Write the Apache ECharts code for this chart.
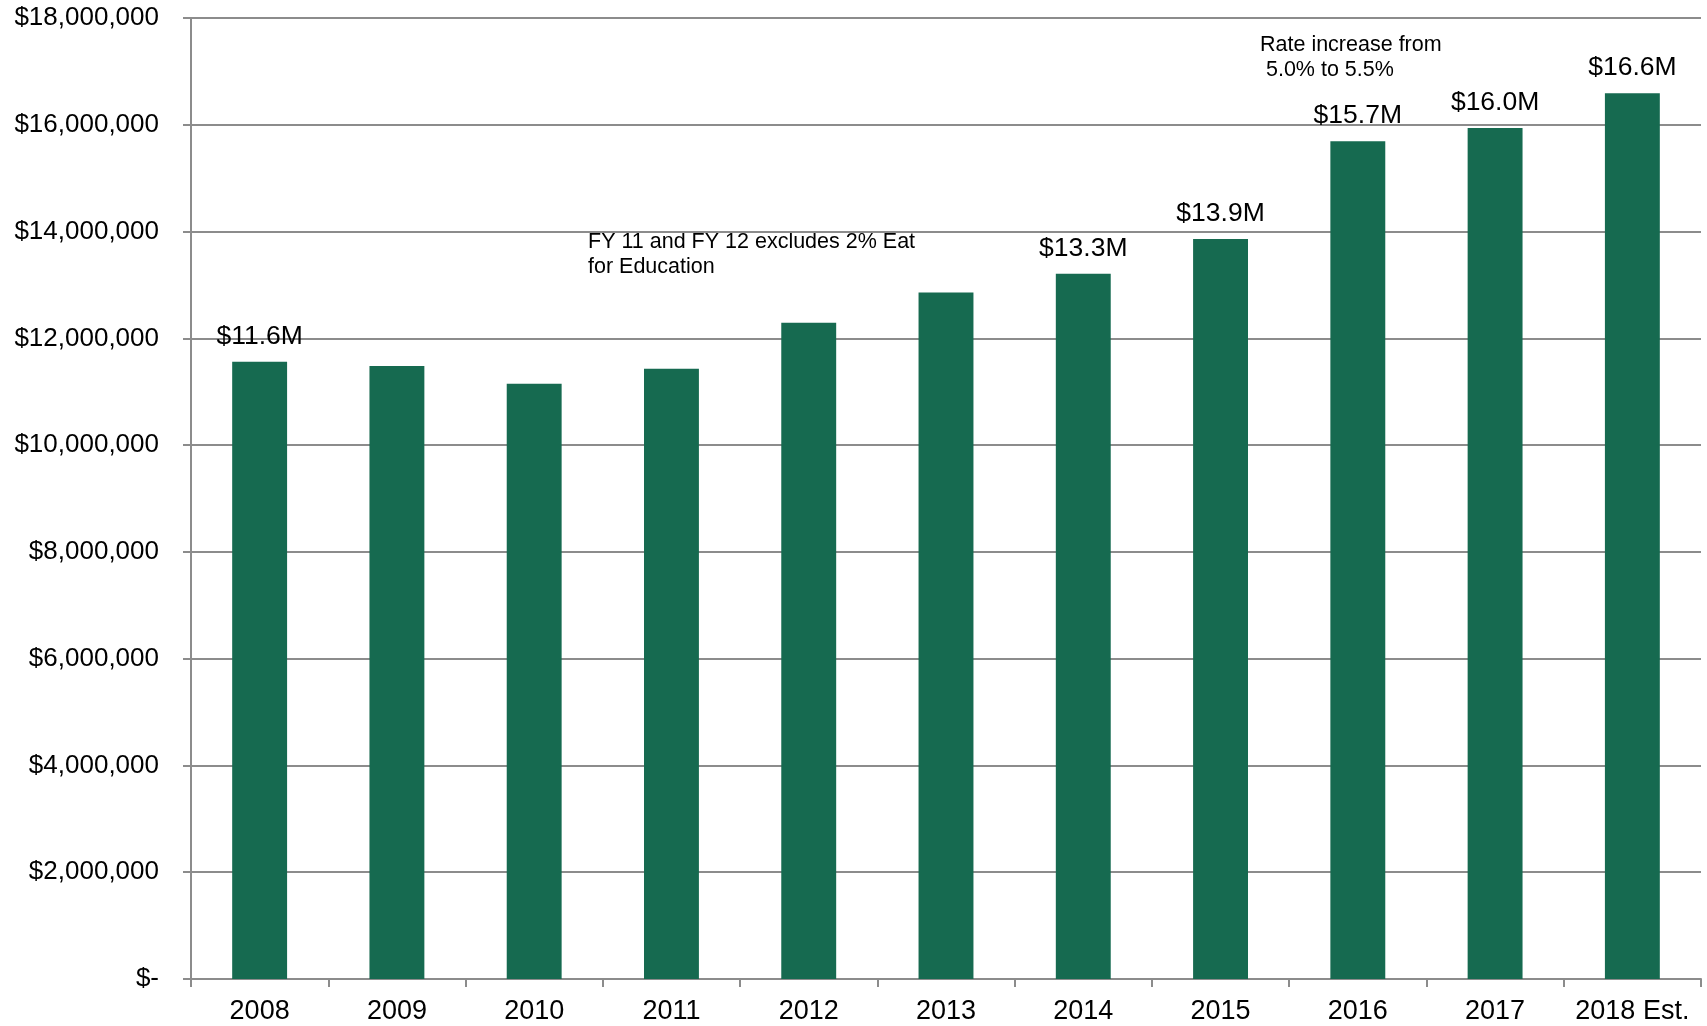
<!DOCTYPE html>
<html>
<head>
<meta charset="utf-8">
<script src="https://cdn.jsdelivr.net/npm/echarts@6/dist/echarts.min.js"></script>
<style>
  html, body { margin: 0; padding: 0; background: #fff; }
  #chart { width: 1707px; height: 1026px; }
</style>
</head>
<body>
<div id="chart"></div>
<script>
// 年度
var years = ['2008', '2009', '2010', '2011', '2012', '2013', '2014', '2015', '2016', '2017', '2018 Est.'];
// 收入 (美元)
var revenue = [11560000, 11480000, 11150000, 11430000, 12290000, 12860000, 13210000, 13860000, 15690000, 15940000, 16590000];
// 柱上標籤，空字串代表不顯示
var barLabels = ['$11.6M', '', '', '', '', '', '$13.3M', '$13.9M', '$15.7M', '$16.0M', '$16.6M'];
var yTicks = [0, 2000000, 4000000, 6000000, 8000000, 10000000, 12000000, 14000000, 16000000, 18000000];

var gridColor = '#8c8c8c';
var font = '"Liberation Sans", Arial, sans-serif';

var myChart = echarts.init(document.getElementById('chart'));

var seriesData = revenue.map(function (v, i) {
  return { value: v, label: { show: barLabels[i] !== '', formatter: barLabels[i] } };
});

myChart.setOption({
  backgroundColor: '#ffffff',
  animation: false,
  grid: {
    left: 191,
    right: 6,
    top: 18,
    bottom: 47
  },
  xAxis: {
    type: 'category',
    data: years,
    axisLine: { show: true, lineStyle: { color: gridColor, width: 2 } },
    axisTick: { show: true, length: 8, lineStyle: { color: gridColor, width: 2 } },
    axisLabel: {
      margin: 19,
      color: '#000',
      fontSize: 27,
      fontFamily: font,
      interval: 0
    }
  },
  yAxis: {
    type: 'value',
    min: yTicks[0],
    max: yTicks[yTicks.length - 1],
    interval: 2000000,
    axisLine: { show: true, lineStyle: { color: gridColor, width: 2 } },
    axisTick: { show: true, length: 8, lineStyle: { color: gridColor, width: 2 } },
    splitLine: { show: true, lineStyle: { color: gridColor, width: 2 } },
    axisLabel: {
      margin: 32,
      color: '#000',
      fontSize: 26,
      fontFamily: font,
      formatter: function (v) {
        if (v === 0) return '$-';
        return '$' + v.toLocaleString('en-US');
      }
    }
  },
  graphic: [
    {
      type: 'text',
      left: 588,
      top: 230,
      style: {
        text: 'FY 11 and FY 12 excludes 2% Eat\nfor Education',
        fontSize: 21.5,
        lineHeight: 25,
        fontFamily: font,
        fill: '#000'
      }
    },
    {
      type: 'text',
      left: 1260,
      top: 33,
      style: {
        text: 'Rate increase from\n 5.0% to 5.5%',
        fontSize: 21.5,
        lineHeight: 25,
        fontFamily: font,
        fill: '#000'
      }
    }
  ],
  series: [
    {
      type: 'bar',
      data: seriesData,
      barWidth: '40%',
      itemStyle: { color: '#166a50' },
      label: {
        position: 'top',
        distance: 12,
        color: '#000',
        fontSize: 26.5,
        fontFamily: font
      }
    }
  ]
});
</script>
</body>
</html>
